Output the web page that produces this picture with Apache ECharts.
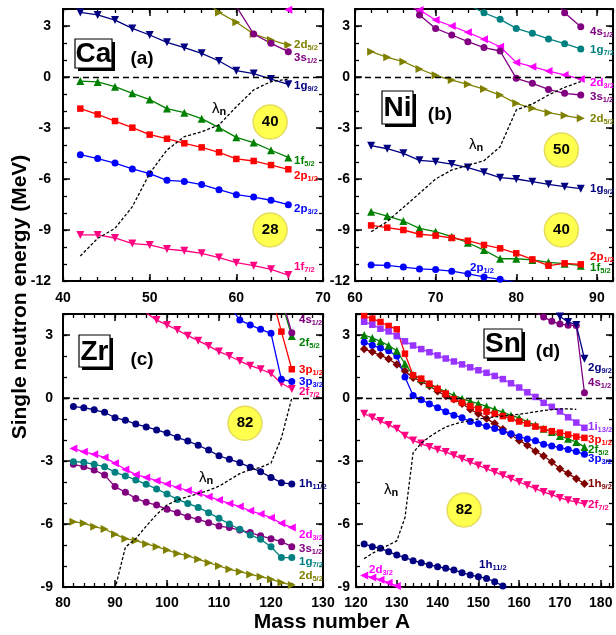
<!DOCTYPE html>
<html><head><meta charset="utf-8">
<script src="https://cdn.jsdelivr.net/npm/echarts@6/dist/echarts.min.js"></script>
<style>html,body{margin:0;padding:0;background:#fff}#c{width:616px;height:635px}</style>
</head><body><div id="c"></div>
<script>
// ================= DATA =================
// ---- Ca (panel a) ----
const caMass = [42,44,46,48,50,52,54,56,58,60,62,64,66];
const ca1g92 = [3.8,3.65,3.35,2.86,2.47,2.04,1.73,1.39,0.94,0.37,0.2,-0.12,-0.43];
const ca1f52 = [-0.24,-0.29,-0.57,-0.96,-1.33,-1.86,-2.1,-2.45,-2.98,-3.55,-3.86,-4.31,-4.73];
const ca2p12 = [-1.86,-2.2,-2.59,-2.98,-3.39,-3.63,-3.9,-4.14,-4.43,-4.82,-4.94,-5.18,-5.43];
const ca2p32 = [-4.57,-4.8,-5.06,-5.41,-5.69,-6.08,-6.14,-6.33,-6.63,-6.92,-7.06,-7.25,-7.51];
const ca1f72 = [-9.29,-9.29,-9.47,-9.8,-9.88,-10.12,-10.22,-10.37,-10.62,-10.92,-11.1,-11.31,-11.65];
const ca2d52Mass = [56,58,60,62,64,66];
const ca2d52 = [4.6,3.8,3.22,2.53,2.18,1.88];
const ca3s12Mass = [60,62,64,66];
const ca3s12 = [4.15,2.53,1.98,1.49];
const ca2d32Mass = [64,66];
const ca2d32 = [5.2,3.95];
const caLambda = [-10.53,-9.49,-8.9,-7.63,-5.67,-4.29,-3.51,-3.22,-2.82,-1.75,-0.76,-0.27,-0.12];

// ---- Ni (panel b) ----
const niMass = [62,64,66,68,70,72,74,76,78,80,82,84,86,88];
const ni2d52 = [1.49,1.16,0.9,0.47,0.1,-0.18,-0.43,-0.71,-1.06,-1.55,-1.84,-2.1,-2.27,-2.43];
const ni1g92 = [-4.04,-4.22,-4.49,-4.9,-4.98,-5.12,-5.33,-5.61,-5.92,-6.0,-6.16,-6.31,-6.45,-6.57];
const ni1f52 = [-7.92,-8.18,-8.47,-8.9,-9.1,-9.39,-9.75,-10.18,-10.69,-10.69,-10.76,-10.9,-10.98,-11.1];
const ni2p12 = [-8.73,-8.86,-9.0,-9.25,-9.33,-9.47,-9.63,-9.88,-10.08,-10.37,-10.73,-11.1,-10.96,-11.02];
const ni2p32Mass = [62,64,66,68,70,72,74,76,78,80];
const ni2p32 = [-11.06,-11.08,-11.18,-11.29,-11.33,-11.42,-11.58,-11.76,-11.9,-12.1];
const niUpperMass = [66,68,70,72,74,76,78,80,82,84,86,88];
const ni2d32 = [4.3,3.94,3.35,3.0,2.63,2.22,1.78,0.86,0.61,0.35,0.12,-0.12];
const ni3s12 = [5.0,3.65,2.86,2.47,2.08,1.73,1.53,-0.08,-0.37,-0.73,-0.96,-1.06];
const ni1g72Mass = [74,76,78,80,82,84,86,88];
const ni1g72 = [4.25,3.78,3.39,2.86,2.57,2.24,1.96,1.65];
const ni4s12Mass = [84,86,88];
const ni4s12 = [5.0,3.78,2.96];
const niLambda = [-9.1,-8.5,-7.67,-6.84,-6.0,-5.47,-5.2,-4.92,-4.1,-1.94,-1.59,-1.06,-0.61,-0.27];

// ---- Zr (panel c) ----
const zrMass = [82,84,86,88,90,92,94,96,98,100,102,104,106,108,110,112,114,116,118,120,122,124];
const zr1h112 = [-0.41,-0.46,-0.56,-0.68,-0.94,-1.06,-1.24,-1.38,-1.52,-1.67,-1.87,-2.05,-2.25,-2.48,-2.75,-2.92,-3.08,-3.3,-3.51,-3.78,-4.03,-4.1];
const zr2d32 = [-2.4,-2.56,-2.68,-2.83,-3.11,-3.4,-3.65,-3.78,-3.94,-4.1,-4.25,-4.41,-4.54,-4.7,-4.86,-5.02,-5.17,-5.37,-5.52,-5.7,-5.97,-6.17];
const zr1g72 = [-3.03,-3.06,-3.16,-3.27,-3.54,-3.71,-3.9,-4.11,-4.33,-4.57,-4.83,-5.02,-5.21,-5.46,-5.73,-6.0,-6.25,-6.52,-6.73,-7.08,-7.6,-7.6];
const zr3s12 = [-3.16,-3.27,-3.43,-3.67,-4.22,-4.49,-4.78,-4.97,-5.1,-5.3,-5.46,-5.65,-5.78,-5.94,-6.1,-6.17,-6.29,-6.41,-6.56,-6.7,-6.84,-7.08];
const zr2d52 = [-5.89,-5.97,-6.13,-6.24,-6.49,-6.7,-6.79,-6.95,-7.08,-7.24,-7.4,-7.52,-7.68,-7.84,-8.0,-8.16,-8.27,-8.4,-8.51,-8.63,-8.79,-8.9];
const zr2f72Mass = [96,98,100,102,104,106,108,110,112,114,116,118,120,122,124];
const zr2f72 = [4.05,3.71,3.48,3.24,2.97,2.73,2.48,2.21,2.0,1.76,1.54,1.37,1.17,0.7,0.43];
const zr3p32Mass = [112,114,116,118,120,122,124];
const zr3p32 = [4.4,3.71,3.48,3.27,3.08,0.89,0.78];
const zr3p12Mass = [120,122,124];
const zr3p12 = [5.0,3.16,1.37];
const zr2f52Mass = [122,124];
const zr2f52 = [4.6,2.95];
const zr4s12Mass = [122,124];
const zr4s12 = [4.8,3.11];
const zrLambdaMass = [90,92,94,96,98,100,102,104,106,108,110,112,114,116,118,120,122,124];
const zrLambda = [-9.1,-7.1,-6.7,-6.1,-5.55,-5.1,-4.85,-4.7,-4.55,-4.4,-4.2,-3.9,-3.6,-3.42,-3.3,-3.1,-1.9,0.0];

// ---- Sn (panel d) ----
const snMass = [122,124,126,128,130,132,134,136,138,140,142,144,146,148,150,152,154,156,158,160,162,164,166,168,170,172,174,176];
const sn1i132 = [3.63,3.49,3.3,3.17,2.95,2.7,2.5,2.33,2.18,2.03,1.88,1.74,1.6,1.46,1.32,1.2,1.05,0.9,0.7,0.5,0.27,0.05,-0.23,-0.42,-0.64,-0.92,-1.17,-1.42];
const sn3p12 = [3.9,3.78,3.62,3.43,3.27,2.11,1.08,0.92,0.68,0.44,0.21,-0.05,-0.22,-0.38,-0.52,-0.65,-0.75,-0.86,-0.98,-1.12,-1.22,-1.36,-1.48,-1.58,-1.65,-1.74,-1.84,-1.9];
const sn2f52 = [3.0,2.86,2.7,2.5,2.25,1.63,1.1,0.92,0.68,0.48,0.29,0.13,-0.03,-0.16,-0.27,-0.4,-0.54,-0.67,-0.83,-0.95,-1.14,-1.3,-1.46,-1.62,-1.81,-1.94,-2.1,-2.33];
const sn3p32 = [2.65,2.51,2.38,2.25,2.0,1.0,0.12,-0.08,-0.28,-0.46,-0.65,-0.82,-0.94,-1.12,-1.23,-1.34,-1.45,-1.6,-1.7,-1.85,-1.95,-2.04,-2.2,-2.28,-2.36,-2.45,-2.55,-2.68];
const sn1h92 = [2.33,2.2,2.03,1.86,1.6,1.28,0.97,0.79,0.57,0.32,0.1,-0.06,-0.27,-0.54,-0.75,-0.98,-1.22,-1.49,-1.75,-2.02,-2.25,-2.54,-2.76,-3.05,-3.37,-3.6,-3.84,-4.08];
const sn2f72 = [-0.75,-0.93,-1.1,-1.28,-1.46,-1.8,-2.02,-2.17,-2.33,-2.46,-2.57,-2.73,-2.89,-3.05,-3.21,-3.37,-3.52,-3.68,-3.84,-4.0,-4.16,-4.32,-4.48,-4.6,-4.76,-4.87,-4.95,-5.05];
const sn1h112Mass = [122,124,126,128,130,132,134,136,138,140,142,144,146,148,150,152,154,156,158];
const sn1h112 = [-6.95,-7.08,-7.16,-7.32,-7.48,-7.59,-7.75,-7.84,-7.95,-8.03,-8.11,-8.19,-8.32,-8.43,-8.51,-8.59,-8.75,-8.95,-9.15];
const sn2d32Mass = [122,124,126,128,130,132];
const sn2d32 = [-8.45,-8.55,-8.65,-8.8,-8.95,-9.1];
const sn4s12Mass = [164,166,168,170,172,174,176];
const sn4s12 = [4.1,3.86,3.65,3.52,3.47,3.45,0.25];
const sn2g92Mass = [168,170,172,174,176];
const sn2g92 = [4.2,3.88,3.62,3.48,1.87];
const snLambdaMass = [122,124,126,128,130,132,134,136,138,140,142,144,146,148,150,152,154,156,158,160,162,164,166,168,170,172,174];
const snLambda = [-7.65,-7.4,-7.2,-7.0,-6.8,-5.7,-2.6,-2.15,-1.85,-1.6,-1.38,-1.25,-1.15,-1.07,-1.0,-0.95,-0.9,-0.86,-0.82,-0.77,-0.72,-0.66,-0.6,-0.55,-0.52,-0.52,-0.54];

// ---- tick labels ----
const xTicksA = [40,50,60,70], xTicksB = [60,70,80,90], xTicksC = [80,90,100,110,120,130], xTicksD = [120,130,140,150,160,170,180];
const yTicksAB = [-12,-9,-6,-3,0,3], yTicksCD = [-9,-6,-3,0,3];

// ---- annotations (magic numbers) ----
const magicNumbers = [
  {panel:0, A:63.9, E:-2.65, text:'40'},
  {panel:0, A:63.9, E:-9.0, text:'28'},
  {panel:1, A:85.6, E:-4.3, text:'50'},
  {panel:1, A:85.6, E:-9.0, text:'40'},
  {panel:2, A:115.0, E:-1.2, text:'82'},
  {panel:3, A:146.5, E:-5.33, text:'82'}
];

// ================= STYLE / LAYOUT =================
const FONT = "'Liberation Sans', Arial, Helvetica, sans-serif";
const NAVY='#000080', GREEN='#008000', RED='#ff0000', BLUE='#0000ff', PINK='#ff0080',
      OLIVE='#808000', PURPLE='#800080', MAGENTA='#ff00ff', TEAL='#008080', VIOLET='#9933ff', BROWN='#800000';

const panels = [
  {grid:{left:63, top:9, width:260, height:272}, x:[40,70], y:[-12,4], xm:10, ym:12},
  {grid:{left:355, top:9, width:258, height:272}, x:[60,92], y:[-12,4], xm:10, ym:5},
  {grid:{left:63, top:314, width:260, height:273}, x:[80,130], y:[-9,4], xm:9, ym:10},
  {grid:{left:356, top:314, width:257, height:273}, x:[120,183], y:[-9,4], xm:9, ym:6}
];

const SYM = {
  down:{symbol:'triangle', rot:180, size:8},
  up:{symbol:'triangle', rot:0, size:8},
  right:{symbol:'triangle', rot:-90, size:8},
  left:{symbol:'triangle', rot:90, size:8},
  sq:{symbol:'rect', rot:0, size:6.5},
  ci:{symbol:'circle', rot:0, size:7},
  dia:{symbol:'diamond', rot:0, size:8.5}
};

const levelSeries = [
  [0, caMass, ca1g92, NAVY, 'down'],
  [0, caMass, ca1f52, GREEN, 'up'],
  [0, caMass, ca2p12, RED, 'sq'],
  [0, caMass, ca2p32, BLUE, 'ci'],
  [0, caMass, ca1f72, PINK, 'down'],
  [0, ca2d52Mass, ca2d52, OLIVE, 'right'],
  [0, ca3s12Mass, ca3s12, PURPLE, 'ci'],
  [0, ca2d32Mass, ca2d32, MAGENTA, 'left'],
  [1, niMass, ni2d52, OLIVE, 'right'],
  [1, niMass, ni1g92, NAVY, 'down'],
  [1, niMass, ni1f52, GREEN, 'up'],
  [1, niMass, ni2p12, RED, 'sq'],
  [1, ni2p32Mass, ni2p32, BLUE, 'ci'],
  [1, niUpperMass, ni2d32, MAGENTA, 'left'],
  [1, niUpperMass, ni3s12, PURPLE, 'ci'],
  [1, ni1g72Mass, ni1g72, TEAL, 'ci'],
  [1, ni4s12Mass, ni4s12, PURPLE, 'ci'],
  [2, zrMass, zr2d52, OLIVE, 'right'],
  [2, zrMass, zr3s12, PURPLE, 'ci'],
  [2, zrMass, zr1g72, TEAL, 'ci'],
  [2, zrMass, zr2d32, MAGENTA, 'left'],
  [2, zrMass, zr1h112, NAVY, 'ci'],
  [2, zr2f72Mass, zr2f72, PINK, 'down'],
  [2, zr3p32Mass, zr3p32, BLUE, 'ci'],
  [2, zr3p12Mass, zr3p12, RED, 'sq'],
  [2, zr2f52Mass, zr2f52, GREEN, 'up'],
  [2, zr4s12Mass, zr4s12, PURPLE, 'ci'],
  [3, snMass, sn2f72, PINK, 'down'],
  [3, snMass, sn1h92, BROWN, 'dia'],
  [3, snMass, sn3p32, BLUE, 'ci'],
  [3, snMass, sn2f52, GREEN, 'up'],
  [3, snMass, sn3p12, RED, 'sq'],
  [3, snMass, sn1i132, VIOLET, 'sq'],
  [3, sn1h112Mass, sn1h112, NAVY, 'ci'],
  [3, sn2d32Mass, sn2d32, MAGENTA, 'left'],
  [3, sn4s12Mass, sn4s12, PURPLE, 'ci'],
  [3, sn2g92Mass, sn2g92, NAVY, 'down']
];
const lambdaSeries = [
  [0, caMass, caLambda], [1, niMass, niLambda], [2, zrLambdaMass, zrLambda], [3, snLambdaMass, snLambda]
];

function pair(m, v) { return m.map((x, i) => [x, v[i]]); }

// ---- axes ----
const xAxes = [], yAxes = [], grids = [];
panels.forEach((P, p) => {
  grids.push(Object.assign({containLabel:false}, P.grid));
  const line = {show:true, onZero:false, lineStyle:{color:'#000', width:2}};
  const noLine = {show:false, onZero:false};
  const lab = (m, extra) => Object.assign({show:true, margin:m, fontSize:14, fontWeight:'bold', color:'#000', fontFamily:FONT}, extra);
  const majT = {show:true, inside:true, length:7, lineStyle:{color:'#000', width:1.5}};
  const minT = {show:true, inside:true, length:4, lineStyle:{color:'#000', width:1.3}};
  const base = {gridIndex:p, type:'value', splitLine:{show:false}, silent:true};
  xAxes.push(Object.assign({}, base, {min:P.x[0], max:P.x[1], interval:10, position:'bottom', axisLine:line, axisTick:majT,
    axisLabel:lab(P.xm, {showMinLabel:true, showMaxLabel:P.x[1] % 10 === 0})}));
  xAxes.push(Object.assign({}, base, {min:P.x[0], max:P.x[1], interval:2, position:'bottom', axisLine:noLine, axisTick:minT, axisLabel:{show:false}}));
  xAxes.push(Object.assign({}, base, {min:P.x[0], max:P.x[1], interval:10, position:'top', axisLine:line, axisTick:majT, axisLabel:{show:false}}));
  xAxes.push(Object.assign({}, base, {min:P.x[0], max:P.x[1], interval:2, position:'top', axisLine:noLine, axisTick:minT, axisLabel:{show:false}}));
  yAxes.push(Object.assign({}, base, {min:P.y[0], max:P.y[1], interval:3, position:'left', axisLine:line, axisTick:majT,
    axisLabel:lab(P.ym, {showMinLabel:true, showMaxLabel:false})}));
  yAxes.push(Object.assign({}, base, {min:P.y[0], max:P.y[1], interval:1, position:'left', axisLine:noLine, axisTick:minT, axisLabel:{show:false}}));
  yAxes.push(Object.assign({}, base, {min:P.y[0], max:P.y[1], interval:3, position:'right', axisLine:line, axisTick:majT, axisLabel:{show:false}}));
  yAxes.push(Object.assign({}, base, {min:P.y[0], max:P.y[1], interval:1, position:'right', axisLine:noLine, axisTick:minT, axisLabel:{show:false}}));
});

// ---- series ----
const series = [];
// magic number circles
panels.forEach((P, p) => {
  series.push({
    type:'scatter', xAxisIndex:4*p, yAxisIndex:4*p, z:1, silent:true,
    symbol:'circle', symbolSize:34,
    itemStyle:{color:'#ffff4d', opacity:1, borderColor:'#e6dc60', borderWidth:1.5},
    label:{show:true, position:'inside', formatter:(d) => d.name, color:'#000', fontSize:15, fontWeight:'bold', fontFamily:FONT},
    data: magicNumbers.filter(m => m.panel === p).map(m => ({name:m.text, value:[m.A, m.E]}))
  });
});
levelSeries.forEach(([p, m, v, c, s]) => {
  const S = SYM[s];
  series.push({
    type:'line', xAxisIndex:4*p, yAxisIndex:4*p, z:3, clip:true, silent:true,
    data:pair(m, v), symbol:S.symbol, symbolSize:S.size, symbolRotate:S.rot, showAllSymbol:true,
    lineStyle:{color:c, width:1.3}, itemStyle:{color:c}
  });
});
lambdaSeries.forEach(([p, m, v]) => {
  series.push({
    type:'line', xAxisIndex:4*p, yAxisIndex:4*p, z:4, clip:true, silent:true,
    data:pair(m, v), symbol:'none',
    lineStyle:{color:'#000', width:1.3, type:[3,2]},
    markLine:{silent:true, symbol:['none','none'], label:{show:false},
      lineStyle:{color:'#000', width:1.3, type:[6,4]}, data:[{yAxis:0}]}
  });
});

// ---- graphic texts ----
const graphics = [];
function lvl(x, y, main, sub, color) {
  graphics.push({type:'text', x:x, y:y, z:50, silent:true,
    style:{text:'{m|' + main + '}{s|' + sub + '}', align:'left', verticalAlign:'middle', textAlign:'left', textVerticalAlign:'middle',
      rich:{m:{fontSize:11.5, fontWeight:'bold', fill:color, fontFamily:FONT, lineHeight:14},
            s:{fontSize:7.5, fontWeight:'bold', fill:color, fontFamily:FONT, lineHeight:8, padding:[6,0,0,0]}}}});
}
// panel a
lvl(294,45,'2d','5/2',OLIVE); lvl(294,58,'3s','1/2',PURPLE); lvl(294,86,'1g','9/2',NAVY);
lvl(294,161,'1f','5/2',GREEN); lvl(294,176,'2p','1/2',RED); lvl(294,209,'2p','3/2',BLUE); lvl(294,267,'1f','7/2',PINK);
// panel b
lvl(590,32,'4s','1/2',PURPLE); lvl(590,50,'1g','7/2',TEAL); lvl(590,83,'2d','3/2',MAGENTA); lvl(590,97,'3s','1/2',PURPLE);
lvl(590,119,'2d','5/2',OLIVE); lvl(590,189,'1g','9/2',NAVY); lvl(590,257,'2p','1/2',RED); lvl(590,268,'1f','5/2',GREEN);
lvl(470,268,'2p','1/2',BLUE);
// panel c
lvl(299,320,'4s','1/2',PURPLE); lvl(299,343,'2f','5/2',GREEN); lvl(299,370,'3p','1/2',RED); lvl(299,382,'3p','3/2',BLUE);
lvl(299,392,'2f','7/2',PINK); lvl(299,484,'1h','11/2',NAVY); lvl(299,535,'2d','3/2',MAGENTA); lvl(299,549,'3s','1/2',PURPLE);
lvl(299,562,'1g','7/2',TEAL); lvl(299,576,'2d','5/2',OLIVE);
// panel d
lvl(588,368,'2g','9/2',NAVY); lvl(588,383,'4s','1/2',PURPLE); lvl(588,427,'1i','13/2',VIOLET); lvl(588,440,'3p','1/2',RED);
lvl(588,450,'2f','5/2',GREEN); lvl(588,459,'3p','3/2',BLUE); lvl(588,484,'1h','9/2',BROWN); lvl(588,505,'2f','7/2',PINK);
lvl(479,565,'1h','11/2',NAVY); lvl(369,570,'2d','3/2',MAGENTA);

function elementBox(x, y, w, h, txt) {
  graphics.push({type:'rect', z:40, silent:true, shape:{x:x+3, y:y+3, width:w, height:h}, style:{fill:'#000'}});
  graphics.push({type:'rect', z:41, silent:true, shape:{x:x, y:y, width:w, height:h}, style:{fill:'#fff', stroke:'#000', lineWidth:1.2}});
  graphics.push({type:'text', z:42, silent:true, x:x + w/2, y:y + h/2 + 1,
    style:{text:txt, font:'bold 28px ' + FONT, fill:'#000', align:'center', verticalAlign:'middle', textAlign:'center', textVerticalAlign:'middle'}});
}
elementBox(75,39,37,29,'Ca');
elementBox(382,91,31,33,'Ni');
elementBox(79,335,31,32,'Zr');
elementBox(484,329,38,29,'Sn');

function plain(x, y, txt, size, rot) {
  graphics.push({type:'text', z:42, silent:true, x:x, y:y, rotation:rot || 0,
    style:{text:txt, font:'bold ' + size + 'px ' + FONT, fill:'#000', align:'center', verticalAlign:'middle', textAlign:'center', textVerticalAlign:'middle'}});
}
plain(142,59,'(a)',19); plain(440,115,'(b)',19); plain(142,360,'(c)',19); plain(548,352,'(d)',19);
plain(20,297,'Single neutron energy (MeV)',21,Math.PI/2);
plain(332,622,'Mass number A',21);

function lam(x, y) {
  graphics.push({type:'text', z:42, silent:true, x:x, y:y,
    style:{text:'{l|λ}{n|n}', align:'left', verticalAlign:'middle', textAlign:'left', textVerticalAlign:'middle',
      rich:{l:{fontSize:15, fill:'#000', fontFamily:FONT, lineHeight:16},
            n:{fontSize:11, fontWeight:'bold', fill:'#000', fontFamily:FONT, lineHeight:11, padding:[6,0,0,0]}}}});
}
lam(212,109); lam(469,145); lam(199,478); lam(384,490);

const chart = echarts.init(document.getElementById('c'), null, {renderer:'canvas'});
chart.setOption({
  animation:false,
  backgroundColor:'#fff',
  grid:grids, xAxis:xAxes, yAxis:yAxes, series:series,
  graphic:{elements:graphics}
});
</script>
</body></html>
